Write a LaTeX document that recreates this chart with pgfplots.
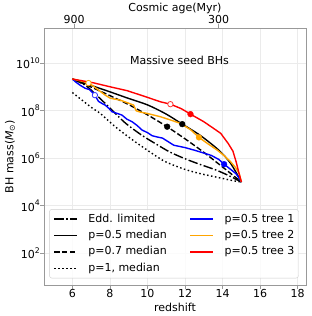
\documentclass[border=0pt]{standalone}
\usepackage{fontspec}
\setmainfont{DejaVu Sans}
\usepackage{pgfplots}
\pgfplotsset{compat=1.18}
\usepackage{pgfplotstable}

\definecolor{myorange}{HTML}{FFA500}
\definecolor{spine}{HTML}{999999}
\definecolor{gridc}{HTML}{EBEBEB}
\newcommand\sups[1]{\raisebox{5.3pt}{\fontsize{7.7}{8}\selectfont #1}}

% log10 of BH mass versus redshift
\pgfplotstableread{
z m
6 9.34
7 9.07
8 8.80
9 8.52
10 8.25
11 7.86
11.85 7.44
12.8 6.97
13.8 6.34
14.43 5.78
15 5.0
}\medA
\pgfplotstableread{
z m
6 9.34
7 9.00
8 8.64
9 8.26
10 7.83
11 7.35
12 6.82
13 6.25
14 5.63
15 5.0
}\medB
\pgfplotstableread{
z m
6 9.34
6.7 9.07
7.3 8.65
8 8.12
8.8 7.50
9.7 6.97
10.5 6.58
11.2 6.26
12 5.98
12.8 5.74
13.6 5.52
14.3 5.28
15 5.0
}\edd
\pgfplotstableread{
z m
6 8.77
7 8.15
7.5 7.88
8.3 7.32
9.3 6.72
10.5 6.07
11.05 5.82
12 5.53
12.83 5.35
13.7 5.20
14.6 5.05
15 5.0
}\pone
\pgfplotstableread{
z m
6 9.34
6.2 9.20
6.41 9.08
6.68 8.95
6.9 8.90
7.2 8.66
7.39 8.40
7.6 8.30
7.75 8.24
7.95 8.10
8.11 7.96
8.35 7.90
8.64 7.82
8.9 7.65
9.18 7.54
9.45 7.38
9.71 7.19
10.0 7.08
10.25 6.95
10.5 6.90
10.8 6.85
11.1 6.70
11.4 6.55
11.7 6.50
12.0 6.45
12.5 6.34
13.0 6.22
13.4 6.12
13.8 5.95
14.08 5.75
14.4 5.55
14.7 5.36
14.85 5.20
15 5.0
}\treeA
\pgfplotstableread{
z m
6 9.34
6.4 9.27
6.86 9.17
7.1 9.05
7.48 8.82
7.75 8.66
8.02 8.53
8.55 8.45
9.0 8.32
9.26 8.24
9.4 8.00
9.6 7.95
9.98 7.89
10.69 7.75
11.2 7.62
11.76 7.47
12.3 7.20
12.74 6.88
13.2 6.62
13.72 6.34
14.1 6.10
14.43 5.85
14.7 5.60
14.88 5.36
15 5.0
}\treeB
\pgfplotstableread{
z m
6 9.34
7.12 9.18
8.02 9.01
8.91 8.85
9.8 8.62
10.69 8.38
11.22 8.28
11.8 8.09
12.29 7.86
13.0 7.54
13.5 7.27
13.9 7.05
14.3 6.62
14.55 6.30
14.72 5.85
14.87 5.38
15 5.0
}\treeC

\begin{document}
\begin{tikzpicture}
\begin{axis}[
  scale only axis, width=262pt, height=257pt,
  xmin=4.49, xmax=18.44,
  ymode=log, ymin=4.57, ymax=3.09e11,
  tick label style={font=\fontsize{11}{13}\selectfont, inner sep=0pt},
  label style={font=\fontsize{11}{13}\selectfont, inner sep=0pt},
  axis line style={spine, line width=0.8pt},
  tick style={spine, line width=0.8pt},
  major tick length=3.5pt,
  tick align=outside,
  minor tick num=0,
  xtick={6,8,10,12,14,16,18},
  ytick={1e2,1e4,1e6,1e8,1e10},
  yticklabels={10\sups{2},10\sups{4},10\sups{6},10\sups{8},10\sups{10}},
  xticklabels={6,8,10,12,14,16,18},
  xtick pos=left, ytick pos=left,
  xticklabel style={anchor=north}, xticklabel shift=0.8pt,
  yticklabel style={anchor=east}, yticklabel shift=0.5pt,
  grid=major, major grid style={gridc, line width=0.8pt},
  xlabel={redshift},
  xlabel style={at={(axis description cs:0.5,-0.1012)}, anchor=base},
  ylabel={BH mass(\textit{M}\textsubscript{⊙})},
  ylabel style={at={(axis description cs:-0.117,0.5)}, anchor=base, rotate=0},
  legend columns=2, legend cell align=left,
  legend image code/.code={\draw[#1] (0pt,0pt) -- (23pt,0pt);},
  legend style={at={(0.02,0.026)}, anchor=south west, draw=black!20,
    rounded corners=2.5pt, fill=white, fill opacity=0.8, draw opacity=1, text opacity=1,
    font=\fontsize{11}{13}\selectfont, inner xsep=4pt, inner ysep=4.3pt,
    row sep=5.4pt,
    nodes={inner sep=0pt, text height=8.4pt, text depth=2.6pt},
    /tikz/every odd column/.style={column sep=10.6pt},
    /tikz/column 2/.style={column sep=23pt}},
]
\addplot[black, line width=1.4pt, dash pattern=on 9.6pt off 2.4pt on 1.5pt off 2.4pt, smooth, forget plot]
  table[x=z, y expr={10^(\thisrow{m})}] {\edd};
\addplot[black, line width=1.4pt, smooth, forget plot]
  table[x=z, y expr={10^(\thisrow{m})}] {\medA};
\addplot[black, line width=1.4pt, dash pattern=on 5.5pt off 2.4pt, smooth, forget plot]
  table[x=z, y expr={10^(\thisrow{m})}] {\medB};
\addplot[black, line width=1.4pt, dash pattern=on 1.5pt off 2.5pt, smooth, forget plot]
  table[x=z, y expr={10^(\thisrow{m})}] {\pone};
\addplot[blue, line width=1.4pt, forget plot]
  table[x=z, y expr={10^(\thisrow{m})}] {\treeA};
\addplot[myorange, line width=1.4pt, forget plot]
  table[x=z, y expr={10^(\thisrow{m})}] {\treeB};
\addplot[red, line width=1.4pt, forget plot]
  table[x=z, y expr={10^(\thisrow{m})}] {\treeC};
% filled markers
\addplot[only marks, mark=*, mark size=2.9pt, red, forget plot] coordinates {(12.29,7.24e7)};
\addplot[only marks, mark=*, mark size=2.9pt, myorange, forget plot] coordinates {(12.74,7.59e6)};
\addplot[only marks, mark=*, mark size=2.9pt, blue, forget plot] coordinates {(14.08,5.62e5)};
\addplot[only marks, mark=*, mark size=2.9pt, black, forget plot] coordinates {(11.85,2.75e7) (11.05,2.14e7)};
% open markers
\addplot[only marks, mark=*, mark size=2.7pt, mark options={fill=white, draw=red!80, line width=0.8pt}, forget plot] coordinates {(11.22,1.905e8)};
\addplot[only marks, mark=*, mark size=2.7pt, mark options={fill=white, draw=myorange, line width=0.8pt}, forget plot] coordinates {(6.86,1.479e9)};
\addplot[only marks, mark=*, mark size=2.7pt, mark options={fill=white, draw=blue!80, line width=0.8pt}, forget plot] coordinates {(7.2,4.57e8)};
% legend in matplotlib column order
\addlegendimage{black, line width=1.3pt, dash pattern=on 9.6pt off 2.4pt on 1.5pt off 2.4pt}
\addlegendentry{Edd. limited}
\addlegendimage{blue, line width=1.3pt}
\addlegendentry{p=0.5 tree 1}
\addlegendimage{black, line width=1.3pt}
\addlegendentry{p=0.5 median}
\addlegendimage{myorange, line width=1.3pt}
\addlegendentry{p=0.5 tree 2}
\addlegendimage{black, line width=1.3pt, dash pattern=on 5.5pt off 2.4pt}
\addlegendentry{p=0.7 median}
\addlegendimage{red, line width=1.3pt}
\addlegendentry{p=0.5 tree 3}
\addlegendimage{black, line width=1.3pt, dash pattern=on 1.5pt off 2.5pt}
\addlegendentry{p=1, median}
\node[font=\fontsize{11}{13}\selectfont] at (axis description cs:0.517,0.875) {Massive seed BHs};
\end{axis}
\begin{axis}[
  scale only axis, width=262pt, height=257pt,
  xmin=4.49, xmax=18.44,
  ymin=0.66, ymax=11.49,
  tick label style={font=\fontsize{11}{13}\selectfont, inner sep=0pt},
  label style={font=\fontsize{11}{13}\selectfont, inner sep=0pt},
  axis line style={spine, line width=0.8pt},
  tick style={spine, line width=0.8pt},
  major tick length=3.5pt,
  tick align=outside,
  axis x line*=top, axis y line=none,
  xtick={6.09,13.79}, xticklabels={900,300},
  xticklabel style={anchor=south}, xticklabel shift=0.8pt,
  xlabel={Cosmic age(Myr)},
  xlabel style={at={(axis description cs:0.5,1.064)}, anchor=base},
]
\end{axis}
\pgfresetboundingbox
\path (-44pt,-31pt) rectangle (267pt,285pt);
\end{tikzpicture}
\end{document}
